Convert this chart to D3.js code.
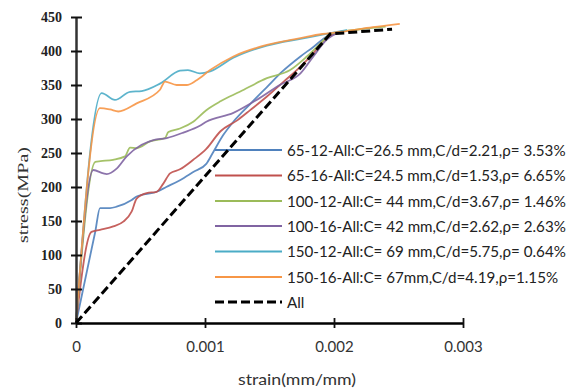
<!DOCTYPE html>
<html><head><meta charset="utf-8">
<script src="https://cdn.jsdelivr.net/npm/d3@7"></script>
<style>html,body{margin:0;padding:0;background:#fff;}svg{display:block;}</style>
</head><body>
<svg id="c" width="574" height="388"></svg>
<script>
const xTicks = [0, 0.001, 0.002, 0.003];
const xTickLabels = ["0", "0.001", "0.002", "0.003"];
const yTicks = [0, 50, 100, 150, 200, 250, 300, 350, 400, 450];

const seriesNames = [
  "65-12-All:C=26.5 mm,C/d=2.21,ρ= 3.53%",
  "65-16-All:C=24.5 mm,C/d=1.53,ρ= 6.65%",
  "100-12-All:C= 44 mm,C/d=3.67,ρ= 1.46%",
  "100-16-All:C= 42 mm,C/d=2.62,ρ= 2.63%",
  "150-12-All:C= 69 mm,C/d=5.75,ρ= 0.64%",
  "150-16-All:C= 67mm,C/d=4.19,ρ=1.15%",
  "All"
];
const seriesColors = ["#4F81BD", "#C0504D", "#9BBB59", "#8064A2", "#4BACC6", "#F79646", "#000000"];

const s65_12 = [[0,0],[0.00015,135],[0.000186,169],[0.000264,169],[0.000315,171],[0.000432,181],[0.00047,186],[0.000625,193],[0.0007,200],[0.000806,210],[0.000909,222],[0.00101,234],[0.00106,250],[0.00114,276],[0.00122,296],[0.00135,322],[0.00148,347],[0.0016,370],[0.00174,392],[0.00184,406],[0.00194,421],[0.00205,428],[0.0021,430]];
const s65_16 = [[0,0],[0.00012,134],[0.000186,137],[0.000289,142],[0.000367,149],[0.000432,164],[0.00047,183],[0.000548,191],[0.000625,193],[0.000677,205],[0.000729,220],[0.000806,226],[0.000909,240],[0.00101,256],[0.00112,282],[0.00125,298],[0.00135,313],[0.00148,333],[0.00161,355],[0.00174,377],[0.00184,397],[0.00194,419],[0.00205,428]];
const s100_12 = [[0,0],[0.00015,237],[0.00019,238],[0.000287,240],[0.00038,245],[0.000419,258],[0.00047,257],[0.000574,267],[0.00069,272],[0.000716,281],[0.000806,286],[0.000909,296],[0.00101,313],[0.00112,326],[0.00127,340],[0.00148,360],[0.00166,372],[0.00179,392],[0.00191,414],[0.00197,425],[0.0022,432],[0.0024,436]];
const s100_16 = [[0,0],[0.000134,225],[0.000212,220],[0.000238,219],[0.000315,227],[0.000393,245],[0.000509,262],[0.0006,269],[0.000703,272],[0.000832,280],[0.00096,290],[0.00101,296],[0.00122,309],[0.0014,328],[0.00158,350],[0.00174,367],[0.00184,392],[0.00194,416],[0.00205,428]];
const s150_12 = [[0,0],[0.000199,338],[0.000302,328],[0.000419,340],[0.000509,341],[0.000651,352],[0.000806,371],[0.000868,372],[0.000961,367],[0.00104,370],[0.00122,390],[0.00148,408],[0.00174,418],[0.00191,424],[0.0021,431]];
const s150_16 = [[0,0],[0.000186,316],[0.000264,314],[0.000328,311],[0.00047,323],[0.000651,343],[0.00069,355],[0.00078,350],[0.000858,350],[0.000935,357],[0.00104,372],[0.00122,392],[0.00148,409],[0.00174,419],[0.00191,425],[0.00205,428],[0.0023,435],[0.00251,440]];
const sAll = [[0,0],[0.00197,425],[0.00245,432]];

const seriesData = [s65_12, s65_16, s100_12, s100_16, s150_12, s150_16, sAll];

const svg = d3.select("#c");
const x = d3.scaleLinear().domain([0, 0.003]).range([76, 463]);
const y = d3.scaleLinear().domain([0, 450]).range([323, 17]);

// curves
const line = d3.line().x(d => x(d[0])).y(d => y(d[1])).curve(d3.curveMonotoneX);
const gCurves = svg.append("g");
seriesData.forEach((data, i) => {
  if (i === 6) return;
  gCurves.append("path").datum(data).attr("d", line)
    .attr("fill", "none").attr("stroke", seriesColors[i]).attr("stroke-width", 1.8)
    .attr("stroke-linejoin", "round").attr("opacity", 0.9);
});

// Y axis
const yAxis = d3.axisLeft(y).tickValues(yTicks).tickSizeInner(5).tickSizeOuter(0).tickPadding(9);
const gy = svg.append("g").attr("transform", `translate(${x(0)},0)`).call(yAxis);
gy.select(".domain").attr("stroke", "#333").attr("stroke-width", 2.5);
gy.selectAll(".tick line").attr("x1", -5).attr("x2", 6).attr("stroke", "#111").attr("stroke-width", 2);
gy.selectAll(".tick text").attr("font-family", "'Liberation Serif', serif").attr("font-weight", "bold")
  .attr("font-size", 14).attr("fill", "#222").attr("x", -14);

// X axis
const xAxis = d3.axisBottom(x).tickValues(xTicks).tickFormat((d, i) => xTickLabels[i]).tickSizeInner(5).tickSizeOuter(0).tickPadding(16);
const gx = svg.append("g").attr("transform", `translate(0,${y(0)})`).call(xAxis);
gx.select(".domain").attr("stroke", "#000").attr("stroke-width", 2.5);
gx.selectAll(".tick line").attr("y1", -5).attr("y2", 5).attr("stroke", "#111").attr("stroke-width", 1.8);
gx.selectAll(".tick text").attr("font-family", "Lato, sans-serif").attr("font-size", 15).attr("fill", "#333").attr("dy", "0.55em");

// axis titles
svg.append("text").attr("x", 297).attr("y", 385).attr("text-anchor", "middle")
  .attr("font-family", "Lato, sans-serif").attr("font-size", 15).attr("fill", "#333")
  .attr("textLength", 118).attr("lengthAdjust", "spacingAndGlyphs").text("strain(mm/mm)");
svg.append("text").attr("transform", "translate(28,195) rotate(-90)").attr("text-anchor", "middle")
  .attr("font-family", "'Liberation Serif', serif").attr("font-size", 15).attr("fill", "#333")
  .attr("textLength", 96).attr("lengthAdjust", "spacingAndGlyphs").text("stress(MPa)");

// legend
const legendY = [150, 175.5, 201, 226, 251.5, 277, 302];
const gl = svg.append("g");
seriesNames.forEach((name, i) => {
  const ln = gl.append("line").attr("x1", 215).attr("x2", 282).attr("y1", legendY[i]).attr("y2", legendY[i])
    .attr("stroke", seriesColors[i]).attr("stroke-width", i === 6 ? 3 : 2.2);
  if (i === 6) ln.attr("stroke-dasharray", "9,4");
  gl.append("text").attr("class", "lt").attr("x", 0).attr("y", 0).attr("dy", "0.36em")
    .attr("transform", `translate(287,${legendY[i]})`)
    .attr("font-family", "Lato, sans-serif").attr("font-size", 16).attr("fill", "#222").text(name);
});
// horizontally condense legend text to reference proportions
const ref = gl.selectAll(".lt").nodes()[2];
const k = 279 / ref.getComputedTextLength();
gl.selectAll(".lt").each(function (d, i) {
  d3.select(this).attr("transform", `translate(287,${legendY[i]}) scale(${k},1)`);
});

// All dashed line on top
svg.append("path").datum(sAll).attr("d", d3.line().x(d => x(d[0])).y(d => y(d[1])))
  .attr("fill", "none").attr("stroke", "#000").attr("stroke-width", 3).attr("stroke-dasharray", "9,4");
</script>
</body></html>
